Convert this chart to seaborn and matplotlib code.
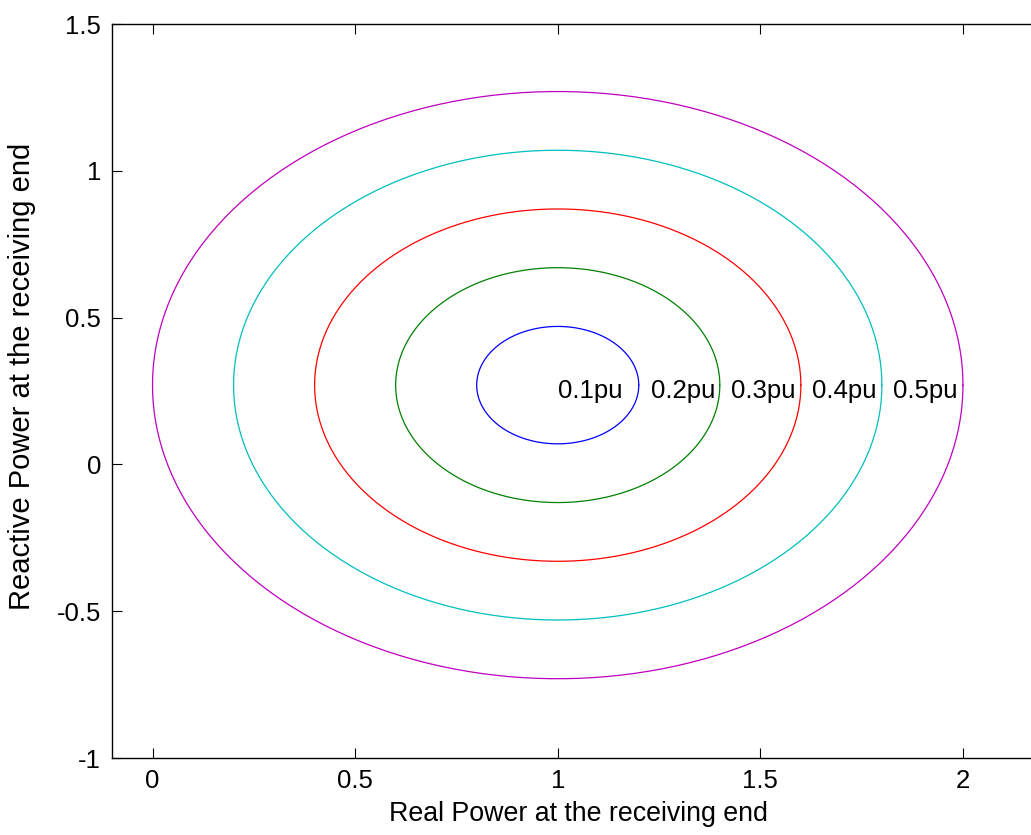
import numpy as np
import pandas as pd
import matplotlib
matplotlib.use("Agg")
import matplotlib.pyplot as plt
import seaborn as sns

# Data
center_p = 1.0
center_q = 0.27
radii = [0.2, 0.4, 0.6, 0.8, 1.0]
labels = ["0.1pu", "0.2pu", "0.3pu", "0.4pu", "0.5pu"]
label_x = [1.0, 1.229, 1.428, 1.628, 1.828]
label_y = [0.25, 0.25, 0.25, 0.25, 0.25]
colors = ["#0000ff", "#008000", "#ff0000", "#00bfbf", "#bf00bf"]
xticks = [0, 0.5, 1, 1.5, 2]
yticks = [-1, -0.5, 0, 0.5, 1, 1.5]

sns.set_style("ticks")
plt.rcParams["font.family"] = ["Liberation Sans", "DejaVu Sans"]
plt.rcParams["axes.unicode_minus"] = False
plt.rcParams["text.color"] = "black"
plt.rcParams["axes.labelcolor"] = "black"

fig = plt.figure(figsize=(10.31, 8.35), dpi=100)
ax = fig.add_axes([112 / 1031, 77 / 835, (1044 - 112) / 1031, 734 / 835])

theta = np.linspace(0, 2 * np.pi, 361)
rows = []
for r, lab in zip(radii, labels):
    for i, t in enumerate(theta):
        rows.append({"P": center_p + r * np.cos(t), "Q": center_q + r * np.sin(t),
                     "level": lab, "order": i})
df = pd.DataFrame(rows)

sns.lineplot(data=df, x="P", y="Q", hue="level", palette=colors, sort=False,
             estimator=None, units="level", ax=ax, linewidth=0.9, legend=False)

for lx, ly, lab in zip(label_x, label_y, labels):
    ax.text(lx, ly, lab, ha="left", va="center", fontsize=18.5, color="black")

ax.set_xlim(-0.1, 2.2)
ax.set_ylim(-1, 1.5)
ax.set_xticks(xticks)
ax.set_xticklabels(["0", "0.5", "1", "1.5", "2"])
ax.set_yticks(yticks)
ax.set_yticklabels(["-1", "-0.5", "0", "0.5", "1", "1.5"])
ax.tick_params(direction="in", length=7, width=0.8, top=True, right=True,
               labelsize=18.5, pad=8, colors="black")
for s in ax.spines.values():
    s.set_linewidth(1.0)
    s.set_color("black")
ax.set_xlabel("Real Power at the receiving end", fontsize=19.3, labelpad=6, color="black")
ax.set_ylabel("Reactive Power at the receiving end", fontsize=21, color="black")
ax.yaxis.set_label_coords(-0.082, 0.52)

fig.savefig("out.png", dpi=100)
